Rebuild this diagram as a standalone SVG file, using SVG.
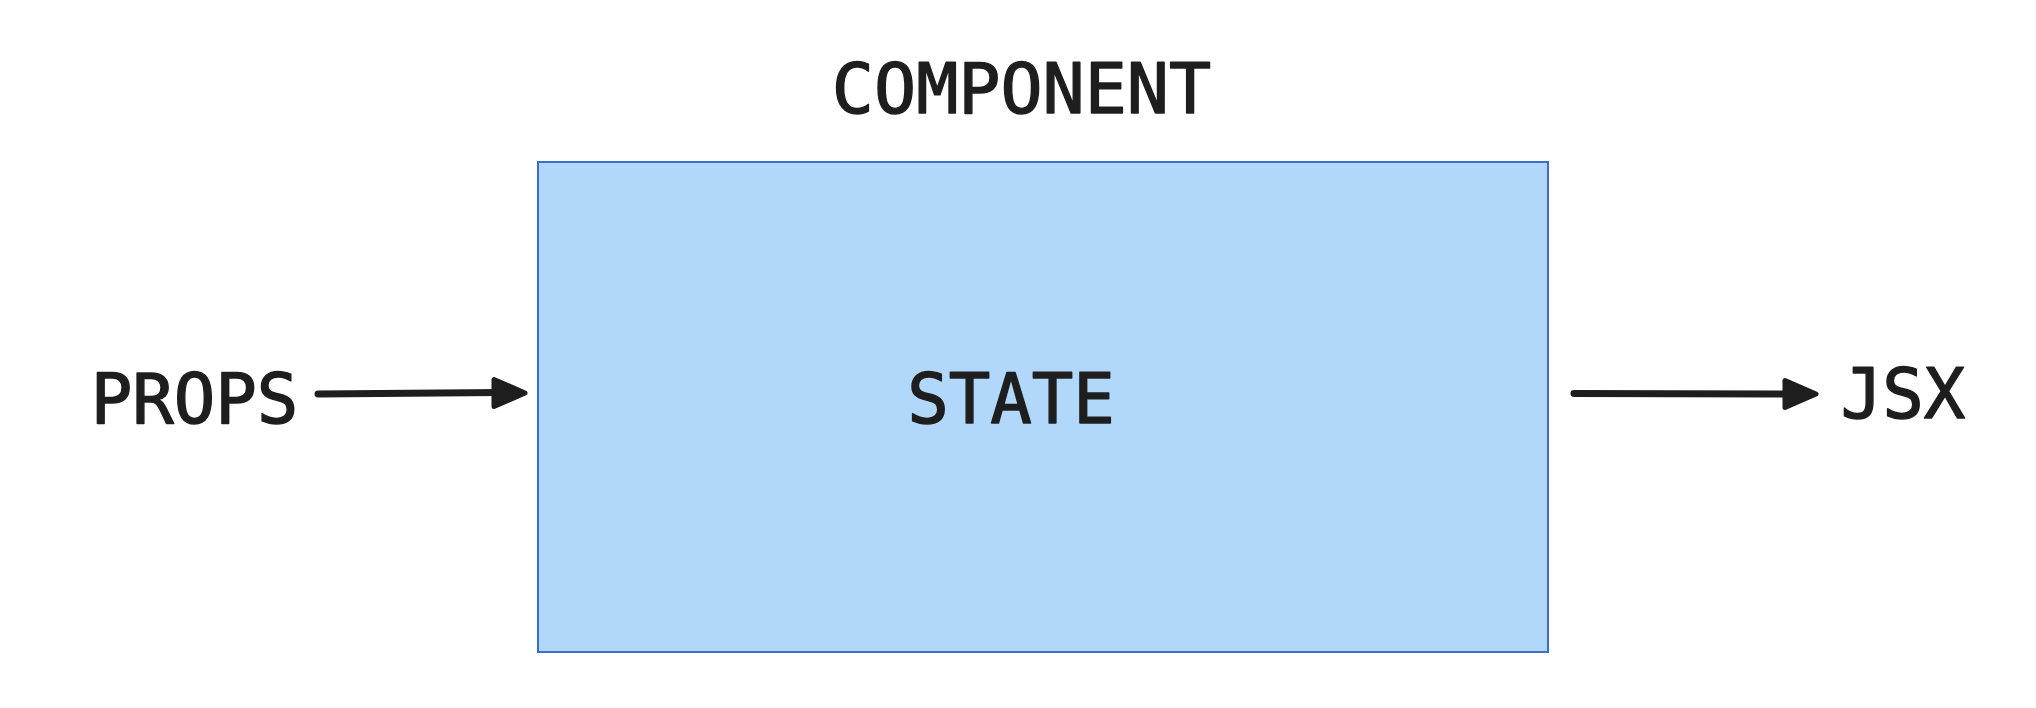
<svg xmlns="http://www.w3.org/2000/svg" width="2036" height="708" viewBox="0 0 2036 708">
<style>
.t{font-family:"DejaVu Sans Mono","Liberation Mono",monospace;fill:#1e1e1e;stroke:#1e1e1e;stroke-width:1.4;stroke-linejoin:round;}
.ln{stroke:#1e1e1e;stroke-width:7;stroke-linecap:round;fill:none;}
.hd{fill:#1e1e1e;stroke:#1e1e1e;stroke-width:5;stroke-linejoin:round;}
</style>
<rect width="2036" height="708" fill="#ffffff"/>
<g id="component">
<rect x="538" y="162" width="1010" height="490" fill="#b1d7fb" stroke="#3b70c6" stroke-width="2"/>
<text class="t" x="1021.5" y="112.5" font-size="70" text-anchor="middle">COMPONENT</text>
</g>
<g id="state">
<text class="t" x="1011" y="423" font-size="69" text-anchor="middle">STATE</text>
</g>
<g id="props">
<text class="t" x="194.5" y="423" font-size="69" text-anchor="middle">PROPS</text>
</g>
<g id="jsx">
<text class="t" x="1903" y="418" font-size="69" text-anchor="middle">JSX</text>
</g>
<g id="connectors">
<path class="ln" d="M318 394 L500 392.5"/>
<path class="hd" d="M525 393 L494 379.5 L494 406.5 Z"/>
<path class="ln" d="M1574 393.5 L1790 394"/>
<path class="hd" d="M1816 394 L1785 380.5 L1785 407.5 Z"/>
</g>
</svg>
